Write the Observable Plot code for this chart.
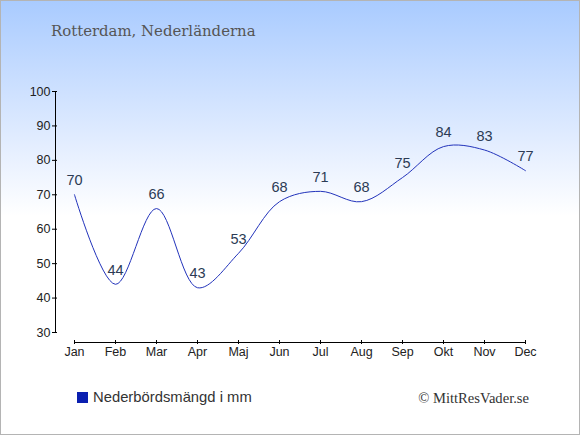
<!DOCTYPE html>
<html>
<head>
<meta charset="utf-8">
<script src="https://cdn.jsdelivr.net/npm/d3@7"></script>
<script src="https://cdn.jsdelivr.net/npm/@observablehq/plot@0.6"></script>
<style>
  html, body { margin: 0; padding: 0; background: #fff; }
  #box {
    position: relative; width: 578px; height: 433px;
    border: 1px solid #b4b4b4;
    background: linear-gradient(to bottom, #a9cbff 0px, #e6efff 150px, #ffffff 215px, #ffffff 100%);
    overflow: hidden;
  }
  #title {
    position: absolute; left: 50px; top: 21px;
    font-family: "DejaVu Serif", "Liberation Serif", serif; font-size: 14.9px; color: #555;
  }
  #chart { position: absolute; left: 0; top: 60px; }
  #legend {
    position: absolute; left: 76px; top: 388px;
    font-family: "Liberation Sans", Arial, sans-serif; font-size: 14.8px; color: #333;
  }
  #legend .sw { display: inline-block; width: 11px; height: 11px; background: #0a1fb0; margin-right: 5px; vertical-align: -1px; }
  #credit {
    position: absolute; right: 50px; top: 389px;
    font-family: "Liberation Serif", "DejaVu Serif", serif; font-size: 14.6px; color: #333;
  }
</style>
</head>
<body>
<div id="box">
  <div id="title">Rotterdam, Nederländerna</div>
  <div id="chart"></div>
  <div id="legend"><span class="sw"></span>Nederbördsmängd i mm</div>
  <div id="credit">© MittResVader.se</div>
</div>
<script>
const months = ["Jan","Feb","Mar","Apr","Maj","Jun","Jul","Aug","Sep","Okt","Nov","Dec"];
const precip = [70, 44, 66, 43, 53, 68, 71, 68, 75, 84, 83, 77];
const yTicks = [30, 40, 50, 60, 70, 80, 90, 100];

const data = months.map((m, i) => ({month: m, value: precip[i]}));

const plot = Plot.plot({
  width: 578,
  height: 310,
  marginTop: 30,
  marginBottom: 39,
  marginLeft: 73,
  marginRight: 54,
  style: {background: "transparent", fontFamily: "Liberation Sans, Arial, sans-serif", fontSize: "12.5px", color: "#222"},
  x: {type: "point", domain: months, padding: 0, label: null},
  y: {domain: [30, 100], label: null},
  marks: [
    Plot.frame({anchor: "left", dx: -19, stroke: "#000"}),
    Plot.frame({anchor: "bottom", dy: 10, stroke: "#000"}),
    Plot.axisY({ticks: yTicks, dx: -17, tickSize: 5, tickPadding: 2, stroke: "#000", fill: "#222", fontSize: 12.5}),
    Plot.axisX({dy: 8, tickSize: 4, tickPadding: 3, stroke: "#000", fill: "#222", fontSize: 12.5}),
    Plot.line(data, {x: "month", y: "value", curve: "catmull-rom", stroke: "#2233bb", strokeWidth: 1}),
    Plot.text(data, {x: "month", y: "value", text: d => String(d.value), dy: -14, fill: "#2c3b55", fontSize: 14.5})
  ]
});
document.getElementById("chart").appendChild(plot);
</script>
</body>
</html>
